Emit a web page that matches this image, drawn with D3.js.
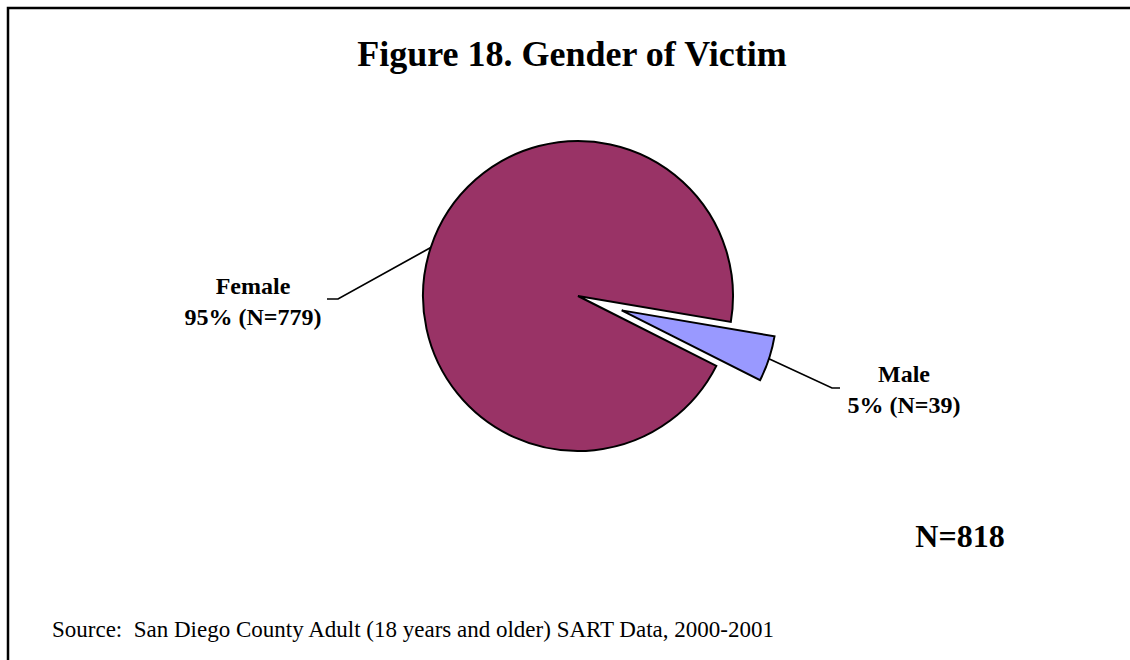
<!DOCTYPE html>
<html>
<head>
<meta charset="utf-8">
<script src="https://cdn.jsdelivr.net/npm/d3@7"></script>
<style>
  html, body { margin: 0; padding: 0; background: #fff; }
  svg { display: block; font-family: "Liberation Serif", "Times New Roman", serif; }
</style>
</head>
<body>
<svg id="chart" width="1130" height="660"></svg>
<script>
var categories = ['Female', 'Male'];
var counts = [779, 39];
var percentLabels = ['95%', '5%'];
var totalN = 818;

var colors = ['#993366', '#9999ff'];

var svg = d3.select('#chart'),
    cx = 578, cy = 296,
    radius = 155,
    explode = [0, 46];

// frame: top and left edges only
svg.append('path')
  .attr('d', 'M8,660 L8,8 L1130,8')
  .attr('fill', 'none')
  .attr('stroke', '#000')
  .attr('stroke-width', 2.5);

svg.append('text')
  .attr('x', 572)
  .attr('y', 66)
  .attr('text-anchor', 'middle')
  .attr('font-size', 36)
  .attr('font-weight', 'bold')
  .text('Figure 18. Gender of Victim');

var data = categories.map(function(c, i) {
  return { name: c, value: counts[i], pct: percentLabels[i] };
});

var start = 116.8 * Math.PI / 180;
var pie = d3.pie()
  .sort(null)
  .value(function(d) { return d.value; })
  .startAngle(start)
  .endAngle(start + 2 * Math.PI);

var arc = d3.arc().innerRadius(0).outerRadius(radius);
var arcs = pie(data);

function offset(d, r) {
  var a = (d.startAngle + d.endAngle) / 2;
  return [Math.sin(a) * r, -Math.cos(a) * r];
}

var g = svg.append('g').attr('transform', 'translate(' + cx + ',' + cy + ')');

g.selectAll('path.slice')
  .data(arcs)
  .enter()
  .append('path')
    .attr('class', 'slice')
    .attr('d', arc)
    .attr('transform', function(d, i) {
      var o = offset(d, explode[i]);
      return 'translate(' + o[0] + ',' + o[1] + ')';
    })
    .attr('fill', function(d, i) { return colors[i]; })
    .attr('stroke', '#000')
    .attr('stroke-width', 2)
    .attr('stroke-linejoin', 'miter');

// label layout: elbow point, end of tick, text centre, first baseline
var labelLayout = [
  { elbow: [338, 299], end: [327, 299], tx: 253, ty: 294 },
  { elbow: [832, 388], end: [840, 388], tx: 904, ty: 382 }
];

arcs.forEach(function(d, i) {
  var o = offset(d, explode[i]),
      p = offset(d, radius),
      L = labelLayout[i];
  var startPt = [cx + o[0] + p[0], cy + o[1] + p[1]];
  svg.append('polyline')
    .attr('points', [startPt, L.elbow, L.end].map(function(q) { return q.join(','); }).join(' '))
    .attr('fill', 'none')
    .attr('stroke', '#000')
    .attr('stroke-width', 1.7);

  var t = svg.append('text')
    .attr('text-anchor', 'middle')
    .attr('font-size', 24)
    .attr('font-weight', 'bold');
  t.append('tspan').attr('x', L.tx).attr('y', L.ty).text(d.data.name);
  t.append('tspan').attr('x', L.tx).attr('y', L.ty + 31)
    .text(d.data.pct + ' (N=' + d.data.value + ')');
});

svg.append('text')
  .attr('x', 960)
  .attr('y', 547)
  .attr('text-anchor', 'middle')
  .attr('font-size', 32)
  .attr('font-weight', 'bold')
  .text('N=' + totalN);

svg.append('text')
  .attr('x', 52)
  .attr('y', 637)
  .attr('font-size', 23)
  .style('white-space', 'pre')
  .text('Source:  San Diego County Adult (18 years and older) SART Data, 2000-2001');
</script>
</body>
</html>
